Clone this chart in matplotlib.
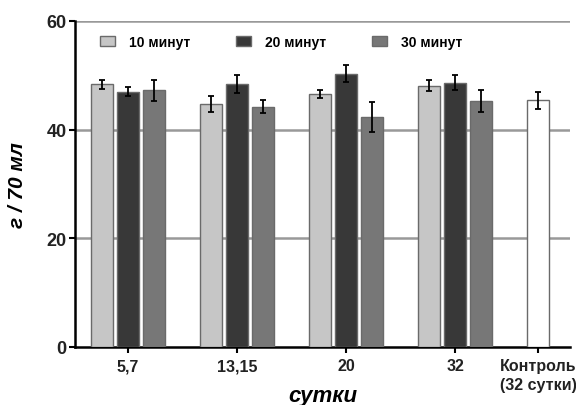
import numpy as np
import matplotlib
matplotlib.use("Agg")
import matplotlib.pyplot as plt

plt.rcParams['font.family'] = ['Liberation Sans', 'DejaVu Sans']

groups = ['5,7', '13,15', '20', '32']
series = ['10 минут', '20 минут', '30 минут']
vals_10 = [48.3, 44.7, 46.6, 48.1]
vals_20 = [47.0, 48.4, 50.3, 48.6]
vals_30 = [47.2, 44.2, 42.3, 45.3]
err_10 = [0.9, 1.5, 0.7, 1.0]
err_20 = [0.8, 1.6, 1.5, 1.4]
err_30 = [2.0, 1.2, 2.8, 2.0]
ctrl_label = 'Контроль\n(32 сутки)'
ctrl_val = 45.4
ctrl_err = 1.6

colors = ['#c6c6c6', '#383838', '#777777']

fig = plt.figure(figsize=(5.76, 4.06), dpi=100)
ax = fig.add_axes([0.130, 0.143, 0.860, 0.803])

x = np.arange(1, len(groups) + 1)
w = 0.2
off = 0.24
allvals = [vals_10, vals_20, vals_30]
allerr = [err_10, err_20, err_30]
for i in range(3):
    ax.bar(x + (i - 1) * off, allvals[i], w, yerr=allerr[i], color=colors[i],
           edgecolor='#6a6a6a', linewidth=1.0, label=series[i], zorder=3,
           error_kw=dict(ecolor='black', elinewidth=1.3, capsize=2.5, capthick=1.3))
xc = 4.76
ax.bar([xc], [ctrl_val], w, yerr=[ctrl_err], color='white', edgecolor='#6a6a6a',
       linewidth=1.0, zorder=3,
       error_kw=dict(ecolor='black', elinewidth=1.3, capsize=2.5, capthick=1.3))

ax.set_xlim(0.514, 5.055)
ax.set_ylim(0, 60)
ax.set_yticks([0, 20, 40, 60])
for yv in [20, 40, 60]:
    ax.axhline(yv, color='#999999', linewidth=1.8, zorder=1)
ax.set_xticks(list(x) + [xc])
ax.set_xticklabels(groups + [ctrl_label], fontsize=11.5, fontweight='bold', color='#222222',
                   linespacing=1.3)
for t in ax.get_yticklabels():
    t.set_fontsize(13)
    t.set_fontweight('bold')
    t.set_color('#222222')
ax.spines['top'].set_visible(False)
ax.spines['right'].set_visible(False)
ax.spines['left'].set_linewidth(1.8)
ax.spines['bottom'].set_linewidth(1.8)
ax.tick_params(axis='both', width=1.5, length=4)
ax.tick_params(axis='x', length=4, pad=4)
ax.tick_params(axis='y', pad=2)

ax.set_ylabel('г / 70 мл', fontsize=15, fontweight='bold', style='italic')
ax.yaxis.set_label_coords(-0.097, 0.5)
ax.set_xlabel('сутки', fontsize=16, fontweight='bold', style='italic', va='center')
ax.xaxis.set_label_coords(0.5, -0.148)

ax.legend(loc='center left', bbox_to_anchor=(0.05, 0.936), ncol=3, frameon=False,
          prop={'weight': 'bold', 'size': 10}, handlelength=1.1, handleheight=0.7,
          columnspacing=3.3, handletextpad=1.0, borderpad=0, borderaxespad=0)

fig.savefig('out.png', dpi=100)
